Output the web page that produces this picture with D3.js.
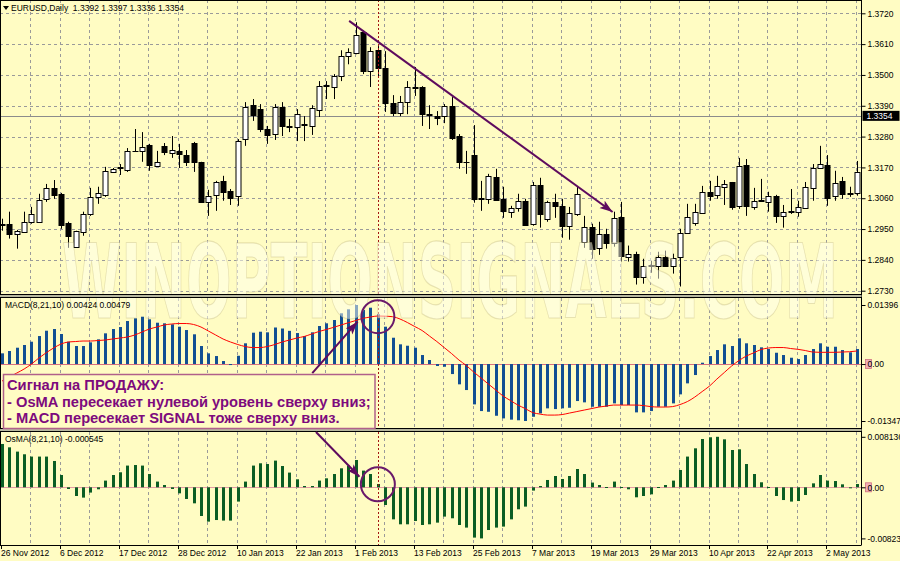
<!DOCTYPE html>
<html><head><meta charset="utf-8">
<script src="https://cdn.jsdelivr.net/npm/d3@7"></script>
<style>body{margin:0;background:#fff}svg{display:block}</style>
</head><body><svg id="c" width="900" height="561"></svg>
<script>
// ---------------- DATA ----------------
const dateLabels = ["26 Nov 2012","6 Dec 2012","17 Dec 2012","28 Dec 2012","10 Jan 2013","22 Jan 2013","1 Feb 2013","13 Feb 2013","25 Feb 2013","7 Mar 2013","19 Mar 2013","29 Mar 2013","10 Apr 2013","22 Apr 2013","2 May 2013"];
const labelEvery = 8;   // bars between date labels
const gridEvery = 4;    // bars between vertical grid lines
const priceTicks = [1.3720,1.3610,1.3500,1.3390,1.3280,1.3170,1.3060,1.2950,1.2840,1.2730];
const bidPrice = 1.3354;
const macdTicks = [0.01396, 0, -0.01347];
const macdTickLabels = ["0.01396","0.00","-0.01347"];
const osmaTicks = [0.008136, 0, -0.00823];
const osmaTickLabels = ["0.008136","0.00","-0.00823"];

const open = [1.2965,1.2969,1.2933,1.2940,1.2976,1.2976,1.3058,1.3097,1.3076,1.2972,
1.2887,1.2940,1.3004,1.3065,1.3072,1.3154,1.3168,1.3161,1.3229,1.3229,
1.3250,1.3175,1.3247,1.3222,1.3229,1.3214,1.3257,1.3190,1.3047,1.3072,
1.3122,1.3086,1.3069,1.3271,1.3392,1.3378,1.3307,1.3289,1.3385,1.3318,
1.3314,1.3325,1.3318,1.3375,1.3460,1.3457,1.3496,1.3567,1.3578,1.3652,
1.3514,1.3588,1.3524,1.3400,1.3364,1.3403,1.3457,1.3457,1.3360,1.3353,
1.3353,1.3389,1.3282,1.3190,1.3214,1.3061,1.3058,1.3136,1.3058,1.3012,
1.3026,1.3051,1.2969,1.3108,1.2987,1.3047,1.3033,1.2962,1.3004,1.2905,
1.2958,1.2883,1.2933,1.2901,1.2994,1.2851,1.2862,1.2780,1.2819,1.2819,
1.2851,1.2819,1.2851,1.2937,1.2972,1.3008,1.3083,1.3072,1.3101,1.3118,
1.3033,1.3179,1.3029,1.3051,1.3047,1.3069,1.2997,1.3012,1.3012,1.3026,
1.3097,1.3168,1.3179,1.3069,1.3122,1.3076,1.3079];
const high = [1.2987,1.3012,1.2947,1.3012,1.3029,1.3076,1.3111,1.3125,1.3079,1.2976,
1.2944,1.3012,1.3097,1.3101,1.3172,1.3168,1.3182,1.3239,1.3307,1.3296,
1.3254,1.3229,1.3257,1.3282,1.3254,1.3232,1.3261,1.3190,1.3090,1.3122,
1.3140,1.3093,1.3271,1.3403,1.3414,1.3396,1.3318,1.3396,1.3403,1.3343,
1.3378,1.3353,1.3392,1.3478,1.3478,1.3503,1.3588,1.3595,1.3688,1.3659,
1.3599,1.3603,1.3585,1.3428,1.3425,1.3478,1.3528,1.3460,1.3392,1.3371,
1.3396,1.3421,1.3289,1.3229,1.3321,1.3122,1.3147,1.3165,1.3101,1.3033,
1.3076,1.3058,1.3118,1.3133,1.3051,1.3076,1.3058,1.3029,1.3101,1.2997,
1.2969,1.2976,1.2951,1.3012,1.3047,1.2891,1.2869,1.2844,1.2837,1.2869,
1.2873,1.2862,1.2951,1.3040,1.3040,1.3104,1.3122,1.3140,1.3125,1.3118,
1.3204,1.3200,1.3097,1.3129,1.3083,1.3072,1.3036,1.3093,1.3051,1.3118,
1.3182,1.3247,1.3214,1.3158,1.3136,1.3101,1.3193];
const low = [1.2944,1.2916,1.2880,1.2937,1.2969,1.2972,1.3047,1.3058,1.2951,1.2883,
1.2887,1.2926,1.2997,1.3040,1.3065,1.3150,1.3143,1.3154,1.3225,1.3190,
1.3158,1.3172,1.3214,1.3204,1.3168,1.3175,1.3154,1.3047,1.2997,1.3015,
1.3051,1.3036,1.3033,1.3247,1.3336,1.3296,1.3254,1.3268,1.3282,1.3296,
1.3264,1.3264,1.3286,1.3350,1.3414,1.3414,1.3478,1.3538,1.3574,1.3503,
1.3457,1.3496,1.3368,1.3353,1.3353,1.3360,1.3425,1.3318,1.3307,1.3321,
1.3328,1.3268,1.3165,1.3147,1.3044,1.3015,1.3040,1.3051,1.2990,1.2990,
1.3012,1.2962,1.2962,1.2955,1.2976,1.2990,1.2919,1.2912,1.2997,1.2883,
1.2844,1.2858,1.2880,1.2887,1.2834,1.2834,1.2752,1.2755,1.2794,1.2773,
1.2816,1.2791,1.2745,1.2933,1.2962,1.3004,1.3051,1.3058,1.3036,1.3019,
1.3022,1.2997,1.3019,1.3047,1.3012,1.2972,1.2955,1.3004,1.2994,1.3022,
1.3051,1.3165,1.3033,1.3051,1.3058,1.3065,1.3069];
const close = [1.2969,1.2933,1.2944,1.2976,1.3004,1.3054,1.3097,1.3072,1.2965,1.2926,
1.2944,1.3004,1.3065,1.3079,1.3158,1.3165,1.3170,1.3229,1.3227,1.3243,
1.3179,1.3190,1.3225,1.3232,1.3218,1.3190,1.3190,1.3047,1.3069,1.3118,
1.3083,1.3061,1.3264,1.3385,1.3357,1.3307,1.3286,1.3385,1.3318,1.3314,
1.3360,1.3321,1.3382,1.3460,1.3463,1.3496,1.3567,1.3581,1.3642,1.3514,
1.3585,1.3524,1.3400,1.3364,1.3403,1.3457,1.3455,1.3360,1.3357,1.3346,
1.3389,1.3275,1.3190,1.3188,1.3058,1.3058,1.3140,1.3054,1.3015,1.3026,
1.3051,1.2965,1.3108,1.3004,1.3047,1.3033,1.2962,1.3008,1.3076,1.2958,
1.2880,1.2933,1.2901,1.2990,1.2855,1.2862,1.2780,1.2819,1.2822,1.2851,
1.2819,1.2848,1.2937,1.2994,1.3012,1.3083,1.3069,1.3104,1.3111,1.3029,
1.3175,1.3033,1.3051,1.3054,1.3069,1.2997,1.3012,1.3015,1.3029,1.3101,
1.3168,1.3182,1.3061,1.3115,1.3076,1.3079,1.3154];

const macdHist = [0.00253,0.00308,0.00386,0.00450,0.00528,0.00662,0.00788,0.00828,0.00710,0.00528,
0.00426,0.00426,0.00513,0.00584,0.00726,0.00828,0.00875,0.01017,0.01081,0.01119,
0.01058,0.00977,0.00963,0.00939,0.00883,0.00804,0.00703,0.00426,0.00253,0.00189,
0.00071,-0.00024,0.00196,0.00490,0.00741,0.00764,0.00750,0.00864,0.00840,0.00785,
0.00733,0.00662,0.00750,0.00899,0.00963,0.01041,0.01200,0.01294,0.01396,0.01278,
0.01332,0.01176,0.00883,0.00622,0.00466,0.00433,0.00386,0.00213,0.00095,-0.00047,
-0.00064,-0.00237,-0.00480,-0.00615,-0.00954,-0.01112,-0.01129,-0.01223,-0.01285,-0.01315,
-0.01330,-0.01347,-0.01247,-0.01166,-0.01048,-0.01065,-0.01048,-0.01034,-0.00875,-0.00906,
-0.01010,-0.01010,-0.01010,-0.00930,-0.00970,-0.00970,-0.01143,-0.01143,-0.01112,-0.01010,
-0.01010,-0.00930,-0.00717,-0.00457,-0.00260,0.00031,0.00189,0.00331,0.00466,0.00426,
0.00608,0.00490,0.00450,0.00395,0.00355,0.00267,0.00213,0.00149,0.00118,0.00213,
0.00355,0.00490,0.00409,0.00409,0.00331,0.00277,0.00355];
const macdSignal = [-0.00402,-0.00308,-0.00213,-0.00118,0.00000,0.00142,0.00267,0.00379,0.00473,0.00521,
0.00532,0.00544,0.00544,0.00556,0.00568,0.00592,0.00615,0.00639,0.00686,0.00757,
0.00828,0.00875,0.00923,0.00946,0.00958,0.00958,0.00935,0.00875,0.00781,0.00686,
0.00592,0.00521,0.00461,0.00414,0.00390,0.00390,0.00414,0.00461,0.00521,0.00568,
0.00615,0.00651,0.00710,0.00769,0.00816,0.00868,0.00923,0.00977,0.01029,0.01081,
0.01112,0.01136,0.01131,0.01119,0.01065,0.00982,0.00887,0.00793,0.00662,0.00532,
0.00390,0.00248,0.00095,-0.00035,-0.00189,-0.00331,-0.00473,-0.00615,-0.00757,-0.00864,
-0.00970,-0.01053,-0.01148,-0.01183,-0.01207,-0.01207,-0.01195,-0.01159,-0.01124,-0.01088,
-0.01053,-0.01017,-0.00994,-0.00970,-0.00970,-0.00970,-0.00970,-0.00982,-0.01006,-0.01017,
-0.01017,-0.01006,-0.00958,-0.00887,-0.00781,-0.00651,-0.00521,-0.00355,-0.00201,-0.00047,
0.00083,0.00189,0.00265,0.00343,0.00379,0.00390,0.00390,0.00367,0.00348,0.00319,
0.00284,0.00277,0.00277,0.00277,0.00284,0.00291,0.00308];
const osma = [0.00698,0.00644,0.00575,0.00532,0.00495,0.00495,0.00495,0.00424,0.00198,-0.00027,
-0.00140,-0.00166,-0.00085,-0.00032,0.00108,0.00198,0.00242,0.00350,0.00359,0.00350,
0.00214,0.00092,0.00037,-0.00027,-0.00097,-0.00188,-0.00258,-0.00462,-0.00553,-0.00527,
-0.00536,-0.00536,-0.00230,0.00092,0.00350,0.00387,0.00375,0.00430,0.00343,0.00237,
0.00129,0.00021,0.00021,0.00108,0.00145,0.00214,0.00306,0.00350,0.00440,0.00269,
0.00214,0.00053,-0.00285,-0.00516,-0.00596,-0.00596,-0.00543,-0.00607,-0.00596,-0.00569,
-0.00472,-0.00499,-0.00607,-0.00649,-0.00810,-0.00823,-0.00688,-0.00649,-0.00633,-0.00516,
-0.00354,-0.00311,-0.00053,0.00021,0.00118,0.00182,0.00134,0.00182,0.00295,0.00214,
0.00076,0.00037,0.00005,0.00092,0.00005,-0.00032,-0.00161,-0.00140,-0.00113,0.00005,
0.00037,0.00108,0.00279,0.00495,0.00628,0.00778,0.00806,0.008136,0.00773,0.00601,
0.00612,0.00375,0.00214,0.00081,0.00005,-0.00140,-0.00205,-0.00230,-0.00221,-0.00124,
0.00064,0.00198,0.00108,0.00101,0.00048,-0.00016,0.00053];

const titleText = "EURUSD,Daily  1.3392 1.3397 1.3336 1.3354";
const macdTitle = "MACD(8,21,10) 0.00424 0.00479";
const osmaTitle = "OsMA(8,21,10) -0.000545";
const watermark = "WINOPTIONSIGNALS.COM";
const noteLines = ["Сигнал на ПРОДАЖУ:", "- OsMA пересекает нулевой уровень сверху вниз;", "- MACD пересекает SIGNAL тоже сверху вниз."];
// annotation anchors in data terms [bar index, value]
const trendArrow = {from:[47.1, 1.3693], to:[82.85, 1.3011]};
const macdArrow = {from:[42.1, -0.00213], to:[48.25, 0.01001]};
const macdCircle = {bar:51, value:0.01119};
const osmaArrow = {from:[42.6, 0.00891], to:[48.5, 0.00171]};
const osmaCircle = {bar:51, value:0.0005};
const signalBar = 51;

// ---------------- LAYOUT ----------------
const W = 900, H = 561;
const axisX = 861.5;
const main = {top:0, bottom:294};
const pm = {top:298, bottom:428};
const po = {top:432, bottom:545};
const BG = "#fffcc3";
const FONT = "'Liberation Sans', Arial, sans-serif";

const n = open.length;
const x = d3.scaleLinear().domain([0, n-1]).range([2, 2 + 7.37*(n-1)]);
const yP = d3.scaleLinear().domain([1.2730, 1.3720]).range([290.7, 13.3]);
const yM = d3.scaleLinear().domain([-0.01347, 0.01396]).range([421, 305]);
const yO = d3.scaleLinear().domain([-0.00823, 0.008136]).range([538.4, 436.8]);

const svg = d3.select("#c");
const bgRect = svg.append("rect").attr("width", W).attr("height", H).attr("fill", BG);

const defs = svg.append("defs");
defs.append("marker").attr("id","ah").attr("markerUnits","userSpaceOnUse")
  .attr("markerWidth",14).attr("markerHeight",10).attr("refX",13).attr("refY",4.5).attr("orient","auto")
  .append("path").attr("d","M0,0 L13,4.5 L0,9 L3,4.5 Z").attr("fill","#5e0b5e");
["m","p","o"].forEach((k,i)=>{
  const p=[main,pm,po][i];
  defs.append("clipPath").attr("id","clip"+k).append("rect").attr("x",0).attr("y",p.top).attr("width",axisX).attr("height",p.bottom-p.top);
});

// grid
const grid = svg.append("g").attr("stroke","#9a9a9a").attr("stroke-dasharray","3,3").attr("stroke-width",1);
const gridBars = d3.range(gridEvery, n, gridEvery);
[main, pm, po].forEach(p=>{
  grid.selectAll(null).data(gridBars).enter().append("line")
    .attr("x1", d=>Math.round(x(d))-0.5).attr("x2", d=>Math.round(x(d))-0.5)
    .attr("y1", p.top).attr("y2", p.bottom);
});
grid.selectAll(null).data(priceTicks).enter().append("line")
  .attr("x1",0).attr("x2",axisX).attr("y1",d=>Math.round(yP(d))+0.5).attr("y2",d=>Math.round(yP(d))+0.5);

// bid line
svg.append("line").attr("x1",0).attr("x2",axisX).attr("y1",Math.round(yP(bidPrice))+0.5).attr("y2",Math.round(yP(bidPrice))+0.5)
  .attr("stroke","#8c8c8c").attr("stroke-width",1);

// candles
const cg = svg.append("g").attr("clip-path","url(#clipm)");
const idx = d3.range(n);
cg.selectAll(".wick").data(idx).enter().append("line")
  .attr("x1",i=>Math.round(x(i))+0.5).attr("x2",i=>Math.round(x(i))+0.5)
  .attr("y1",i=>yP(high[i])).attr("y2",i=>yP(low[i])).attr("stroke","#000").attr("stroke-width",1);
cg.selectAll(".body").data(idx).enter().append("rect")
  .attr("x",i=>Math.round(x(i))-2)
  .attr("y",i=>Math.round(yP(Math.max(open[i],close[i])))+0.5)
  .attr("width",5)
  .attr("height",i=>Math.max(0.01, Math.round(yP(Math.min(open[i],close[i]))) - Math.round(yP(Math.max(open[i],close[i])))))
  .attr("fill",i=>close[i]>=open[i] ? "#ffffff" : "#000000")
  .attr("stroke","#000").attr("stroke-width",1);

// MACD panel
const mg = svg.append("g").attr("clip-path","url(#clipp)");
mg.append("line").attr("x1",0).attr("x2",axisX).attr("y1",Math.round(yM(0))+0.5).attr("y2",Math.round(yM(0))+0.5)
  .attr("stroke","#d9707f").attr("stroke-width",1);
mg.selectAll(".mh").data(idx).enter().append("rect")
  .attr("x",i=>Math.round(x(i))-1)
  .attr("y",i=>Math.min(yM(0), yM(macdHist[i])))
  .attr("width",3)
  .attr("height",i=>Math.max(1, Math.abs(yM(macdHist[i])-yM(0))))
  .attr("fill","#124f93");
mg.append("path").datum(idx)
  .attr("d", d3.line().x(i=>x(i)).y(i=>yM(macdSignal[i])).curve(d3.curveMonotoneX))
  .attr("fill","none").attr("stroke","#ff0000").attr("stroke-width",1);

// OsMA panel
const og = svg.append("g").attr("clip-path","url(#clipo)");
og.append("line").attr("x1",0).attr("x2",axisX).attr("y1",Math.round(yO(0))+0.5).attr("y2",Math.round(yO(0))+0.5)
  .attr("stroke","#e39aa5").attr("stroke-width",1);
og.selectAll(".oh").data(idx).enter().append("rect")
  .attr("x",i=>Math.round(x(i))-1)
  .attr("y",i=>Math.min(yO(0), yO(osma[i])))
  .attr("width",3)
  .attr("height",i=>Math.max(1, Math.abs(yO(osma[i])-yO(0))))
  .attr("fill","#0b5d24");

// vertical dotted red line
svg.append("line").attr("x1",Math.round(x(signalBar))+0.5).attr("x2",Math.round(x(signalBar))+0.5)
  .attr("y1",0).attr("y2",po.bottom).attr("stroke","#a31515").attr("stroke-width",1).attr("stroke-dasharray","2,2");

// watermark
svg.append("text").attr("x",62).attr("y",318).text(watermark)
  .attr("font-family","'DejaVu Sans Condensed','DejaVu Sans',sans-serif").attr("font-weight","bold")
  .attr("font-size",104).attr("textLength",776).attr("lengthAdjust","spacingAndGlyphs")
  .attr("fill","rgba(255,255,238,0.5)").attr("stroke","rgba(175,165,105,0.3)").attr("stroke-width",1.2);

// panel borders / separators
const bord = svg.append("g").attr("stroke","#000").attr("stroke-width",1).attr("fill","none");
bord.append("line").attr("x1",axisX).attr("x2",axisX).attr("y1",0).attr("y2",po.bottom);
bord.append("line").attr("x1",0.5).attr("x2",0.5).attr("y1",0).attr("y2",po.bottom);
bord.append("line").attr("x1",0).attr("x2",axisX).attr("y1",0.5).attr("y2",0.5);
[main.bottom+0.5, pm.top-0.5, pm.bottom+0.5, po.top-0.5, po.bottom+0.5].forEach(yy=>{
  bord.append("line").attr("x1",0).attr("x2",axisX).attr("y1",yy).attr("y2",yy);
});
svg.append("rect").attr("x",0).attr("y",main.bottom+1).attr("width",axisX).attr("height",pm.top-main.bottom-2).attr("fill","#b8b8a0");
svg.append("rect").attr("x",0).attr("y",pm.bottom+1).attr("width",axisX).attr("height",po.top-pm.bottom-2).attr("fill","#b8b8a0");

// zero level markers (behind labels)
[yM(0), yO(0)].forEach(yy=>{
  svg.append("rect").attr("x",axisX+4).attr("y",yy-4.5).attr("width",6).attr("height",9)
    .attr("fill","#f0b0b8").attr("stroke","#d07080").attr("stroke-width",0.8);
});

// right axes
function rightAxis(scale, ticks, labels){
  const g = svg.append("g").attr("transform",`translate(${axisX},0)`)
    .call(d3.axisRight(scale).tickValues(ticks).tickSize(4).tickPadding(2)
      .tickFormat((d,i)=> labels ? labels[i] : d3.format(".4f")(d)));
  g.select(".domain").remove();
  g.selectAll("text").attr("font-family",FONT).attr("font-size",8.5).attr("fill","#000");
  g.selectAll("line").attr("stroke","#000");
  return g;
}
rightAxis(yP, priceTicks, null);
rightAxis(yM, macdTicks, macdTickLabels);
rightAxis(yO, osmaTicks, osmaTickLabels);

// bid label
const by = yP(bidPrice);
svg.append("rect").attr("x",axisX+1).attr("y",by-5).attr("width",37).attr("height",10).attr("fill","#000");
svg.append("text").attr("x",axisX+5).attr("y",by+3.2).text(d3.format(".4f")(bidPrice))
  .attr("font-family",FONT).attr("font-size",8.5).attr("fill","#ffffff");

// date axis
const xa = svg.append("g");
const labBars = d3.range(0, n, labelEvery);
xa.selectAll("line").data(labBars).enter().append("line")
  .attr("x1",d=>Math.round(x(d))-0.5).attr("x2",d=>Math.round(x(d))-0.5)
  .attr("y1",po.bottom).attr("y2",po.bottom+4).attr("stroke","#000");
xa.selectAll("text").data(labBars).enter().append("text")
  .attr("x",d=>Math.max(1, Math.round(x(d))-1)).attr("y",556)
  .text((d,i)=>dateLabels[i]).attr("font-family",FONT).attr("font-size",8.5).attr("fill","#000");

// titles
svg.append("path").attr("d","M3,6 L9,6 L6,10 Z").attr("fill","#000");
svg.append("text").attr("x",11).attr("y",11).text(titleText).attr("font-family",FONT).attr("font-size",8.5).attr("fill","#000").style("white-space","pre");
svg.append("text").attr("x",5).attr("y",308).text(macdTitle).attr("font-family",FONT).attr("font-size",8.5).attr("fill","#000");
svg.append("text").attr("x",5).attr("y",442).text(osmaTitle).attr("font-family",FONT).attr("font-size",8.5).attr("fill","#000");

// annotations
svg.append("line").attr("x1",x(trendArrow.from[0])).attr("y1",yP(trendArrow.from[1]))
  .attr("x2",x(trendArrow.to[0])).attr("y2",yP(trendArrow.to[1]))
  .attr("stroke","#5e0b5e").attr("stroke-width",2).attr("marker-end","url(#ah)");
svg.append("circle").attr("cx",x(macdCircle.bar)).attr("cy",yM(macdCircle.value)).attr("r",16.5)
  .attr("fill","none").attr("stroke","#6a1a6a").attr("stroke-width",2);
svg.append("circle").attr("cx",x(osmaCircle.bar)).attr("cy",yO(osmaCircle.value)).attr("r",17)
  .attr("fill","none").attr("stroke","#6a1a6a").attr("stroke-width",2);
svg.append("line").attr("x1",x(macdArrow.from[0])).attr("y1",yM(macdArrow.from[1]))
  .attr("x2",x(macdArrow.to[0])).attr("y2",yM(macdArrow.to[1]))
  .attr("stroke","#5e0b5e").attr("stroke-width",2).attr("marker-end","url(#ah)");
svg.append("line").attr("x1",x(osmaArrow.from[0])).attr("y1",yO(osmaArrow.from[1]))
  .attr("x2",x(osmaArrow.to[0])).attr("y2",yO(osmaArrow.to[1]))
  .attr("stroke","#5e0b5e").attr("stroke-width",2).attr("marker-end","url(#ah)");

// note box
svg.append("rect").attr("x",3.5).attr("y",374.5).attr("width",371.5).attr("height",54)
  .attr("fill",BG).attr("stroke","#b0608a").attr("stroke-width",1.5);
svg.selectAll(".note").data(noteLines).enter().append("text")
  .attr("x",7).attr("y",(d,i)=>390+i*16.5).text(d=>d)
  .attr("font-family",FONT).attr("font-size",14.7).attr("font-weight","bold").attr("fill","#7d0a7d");
</script></body></html>
